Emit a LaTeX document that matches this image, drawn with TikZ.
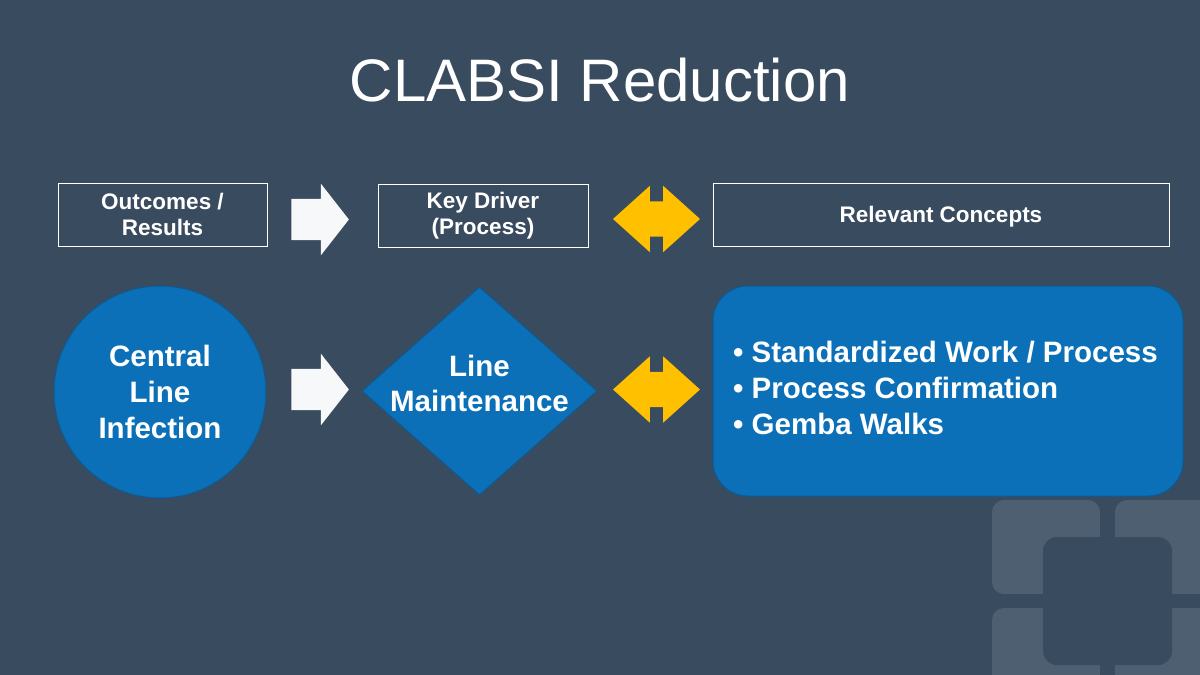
\documentclass[tikz,border=0pt]{standalone}
\usepackage{fontspec}
\setmainfont{Liberation Sans}
\usetikzlibrary{shapes.geometric,shapes.arrows,positioning}
\definecolor{slide}{HTML}{394B5E}
\definecolor{tile}{HTML}{4D5F70}
\definecolor{blueish}{HTML}{0B70B7}
\definecolor{blueedge}{HTML}{0A5C96}
\definecolor{gold}{HTML}{FFC000}
\tikzset{
  label box/.style={draw=white, line width=0.8pt, text=white, font=\fontsize{22.5}{26}\selectfont\bfseries, align=center, inner sep=0pt},
  white arrow/.style={single arrow, fill=white!96!slide, draw=none, inner sep=20.5pt, minimum height=56pt, single arrow head extend=15pt, single arrow tip angle=104},
  gold arrow/.style={double arrow, fill=gold, draw=none, inner sep=17.5pt, minimum height=87pt, double arrow head extend=15.5pt, double arrow tip angle=84},
  big text/.style={text=white, font=\fontsize{29.5}{36}\selectfont\bfseries, align=center}
}
\begin{document}
\begin{tikzpicture}[x=1pt,y=-1pt]
  \fill[slide] (0,0) rectangle (1200,675);
  \useasboundingbox (0,0) rectangle (1200,675);
  % corner tiles
  \fill[tile, rounded corners=12pt] (992,500) rectangle (1100,594);
  \fill[tile, rounded corners=12pt] (1115,500) rectangle (1230,594);
  \fill[tile, rounded corners=12pt] (992,608) rectangle (1100,700);
  \fill[tile, rounded corners=12pt] (1115,608) rectangle (1230,700);
  \fill[slide] (1100,480) rectangle (1115,700);
  \fill[slide] (980,594) rectangle (1230,608);
  \fill[slide, rounded corners=14pt] (1043,537) rectangle (1172,665);
  % title
  \node[text=white, font=\fontsize{60}{70}\selectfont] (title) at (600,80) {CLABSI Reduction};
  % header row
  \node[label box, minimum width=209pt, minimum height=63pt] (outcomes) at (162.5,214.5) {Outcomes /\\Results};
  \node[label box, minimum width=210pt, minimum height=63pt] (driver) at (483,215.5) {Key Driver\\(Process)};
  \node[label box, minimum width=456pt, minimum height=63pt, text depth=0pt] (concepts) at (941,214.5) {Relevant Concepts};
  \node[white arrow] (wa1) at (312,219.5) {};
  \node[gold arrow] (ga1) at (656.5,219) {};
  % bottom row
  \node[circle, fill=blueish, draw=blueedge, line width=1pt, minimum size=212pt, big text] (infection) at (160,392) {Central\\Line\\Infection};
  \node[diamond, fill=blueish, draw=blueedge, line width=1pt, minimum width=235pt, minimum height=208pt, inner sep=0pt] (maint) at (479.5,391) {};
  \node[big text, font=\fontsize{29.5}{35}\selectfont\bfseries] (maintext) at (479.5,383) {Line\\Maintenance};
  \node[rounded corners=35pt, fill=blueish, draw=blueedge, line width=1pt, minimum width=470pt, minimum height=210pt] (work) at (948,391) {};
  \node[white arrow] (wa2) at (312,389.5) {};
  \node[gold arrow] (ga2) at (656.5,389.5) {};
  \node[anchor=north west, text=white, font=\fontsize{29.5}{36}\selectfont\bfseries, align=left, inner sep=0pt] (items) at (733,341)
    {\textbullet\ Standardized Work / Process\\\textbullet\ Process Confirmation\\\textbullet\ Gemba Walks};
\end{tikzpicture}
\end{document}
